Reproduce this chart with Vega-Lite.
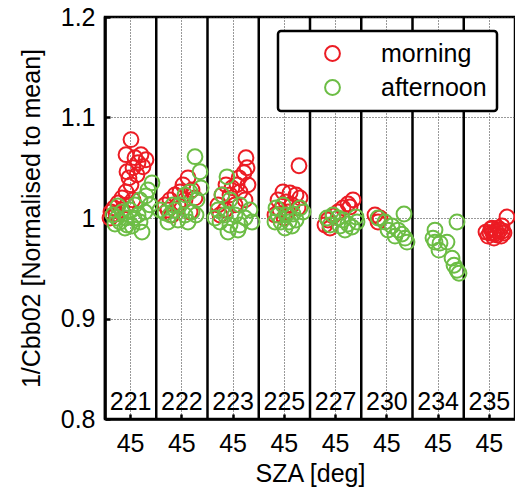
{
  "$schema": "https://vega.github.io/schema/vega-lite/v6.json",
  "width": 410,
  "height": 402,
  "autosize": {"type": "none"},
  "padding": {"left": 105, "top": 17, "right": 0, "bottom": 76},
  "background": "white",
  "datasets": {
    "days": [
      {"day": "221"}, {"day": "222"}, {"day": "223"}, {"day": "225"},
      {"day": "227"}, {"day": "230"}, {"day": "234"}, {"day": "235"}
    ],
    "obs": [
      {"day": "221", "period": "morning", "sza": 45.07, "v": 1.078},
      {"day": "221", "period": "morning", "sza": 44.10, "v": 1.063},
      {"day": "221", "period": "morning", "sza": 45.85, "v": 1.060},
      {"day": "221", "period": "morning", "sza": 47.02, "v": 1.063},
      {"day": "221", "period": "morning", "sza": 48.00, "v": 1.058},
      {"day": "221", "period": "morning", "sza": 46.44, "v": 1.055},
      {"day": "221", "period": "morning", "sza": 47.41, "v": 1.051},
      {"day": "221", "period": "morning", "sza": 45.46, "v": 1.050},
      {"day": "221", "period": "morning", "sza": 44.29, "v": 1.046},
      {"day": "221", "period": "morning", "sza": 44.68, "v": 1.040},
      {"day": "221", "period": "morning", "sza": 46.24, "v": 1.043},
      {"day": "221", "period": "morning", "sza": 45.07, "v": 1.033},
      {"day": "221", "period": "morning", "sza": 44.10, "v": 1.026},
      {"day": "221", "period": "morning", "sza": 43.32, "v": 1.020},
      {"day": "221", "period": "morning", "sza": 42.54, "v": 1.015},
      {"day": "221", "period": "morning", "sza": 41.76, "v": 1.010},
      {"day": "221", "period": "morning", "sza": 41.17, "v": 1.006},
      {"day": "221", "period": "morning", "sza": 42.15, "v": 1.004},
      {"day": "221", "period": "morning", "sza": 43.32, "v": 1.008},
      {"day": "221", "period": "morning", "sza": 44.29, "v": 1.013},
      {"day": "221", "period": "morning", "sza": 45.46, "v": 1.018},
      {"day": "221", "period": "morning", "sza": 40.98, "v": 1.000},
      {"day": "222", "period": "morning", "sza": 46.20, "v": 1.040},
      {"day": "222", "period": "morning", "sza": 45.22, "v": 1.033},
      {"day": "222", "period": "morning", "sza": 43.66, "v": 1.023},
      {"day": "222", "period": "morning", "sza": 44.63, "v": 1.026},
      {"day": "222", "period": "morning", "sza": 46.98, "v": 1.028},
      {"day": "222", "period": "morning", "sza": 42.68, "v": 1.018},
      {"day": "222", "period": "morning", "sza": 41.71, "v": 1.013},
      {"day": "222", "period": "morning", "sza": 45.61, "v": 1.018},
      {"day": "222", "period": "morning", "sza": 44.24, "v": 1.013},
      {"day": "222", "period": "morning", "sza": 47.56, "v": 1.020},
      {"day": "222", "period": "morning", "sza": 43.07, "v": 1.003},
      {"day": "222", "period": "morning", "sza": 42.29, "v": 1.008},
      {"day": "222", "period": "morning", "sza": 46.59, "v": 1.006},
      {"day": "223", "period": "morning", "sza": 47.51, "v": 1.060},
      {"day": "223", "period": "morning", "sza": 47.71, "v": 1.050},
      {"day": "223", "period": "morning", "sza": 47.12, "v": 1.045},
      {"day": "223", "period": "morning", "sza": 46.15, "v": 1.040},
      {"day": "223", "period": "morning", "sza": 45.76, "v": 1.033},
      {"day": "223", "period": "morning", "sza": 44.78, "v": 1.030},
      {"day": "223", "period": "morning", "sza": 43.61, "v": 1.033},
      {"day": "223", "period": "morning", "sza": 42.83, "v": 1.023},
      {"day": "223", "period": "morning", "sza": 44.39, "v": 1.023},
      {"day": "223", "period": "morning", "sza": 46.34, "v": 1.026},
      {"day": "223", "period": "morning", "sza": 47.90, "v": 1.033},
      {"day": "223", "period": "morning", "sza": 42.05, "v": 1.013},
      {"day": "223", "period": "morning", "sza": 43.41, "v": 1.008},
      {"day": "223", "period": "morning", "sza": 45.37, "v": 1.013},
      {"day": "223", "period": "morning", "sza": 47.32, "v": 1.018},
      {"day": "223", "period": "morning", "sza": 42.44, "v": 1.003},
      {"day": "225", "period": "morning", "sza": 47.85, "v": 1.052},
      {"day": "225", "period": "morning", "sza": 44.73, "v": 1.026},
      {"day": "225", "period": "morning", "sza": 46.10, "v": 1.025},
      {"day": "225", "period": "morning", "sza": 47.27, "v": 1.023},
      {"day": "225", "period": "morning", "sza": 48.05, "v": 1.020},
      {"day": "225", "period": "morning", "sza": 43.76, "v": 1.018},
      {"day": "225", "period": "morning", "sza": 45.32, "v": 1.016},
      {"day": "225", "period": "morning", "sza": 46.49, "v": 1.013},
      {"day": "225", "period": "morning", "sza": 44.15, "v": 1.008},
      {"day": "225", "period": "morning", "sza": 45.71, "v": 1.006},
      {"day": "225", "period": "morning", "sza": 47.66, "v": 1.010},
      {"day": "225", "period": "morning", "sza": 43.17, "v": 1.003},
      {"day": "225", "period": "morning", "sza": 44.93, "v": 1.000},
      {"day": "227", "period": "morning", "sza": 48.39, "v": 1.018},
      {"day": "227", "period": "morning", "sza": 47.41, "v": 1.014},
      {"day": "227", "period": "morning", "sza": 46.44, "v": 1.010},
      {"day": "227", "period": "morning", "sza": 45.46, "v": 1.006},
      {"day": "227", "period": "morning", "sza": 44.49, "v": 1.002},
      {"day": "227", "period": "morning", "sza": 43.51, "v": 0.998},
      {"day": "227", "period": "morning", "sza": 42.93, "v": 0.993},
      {"day": "227", "period": "morning", "sza": 43.90, "v": 0.990},
      {"day": "227", "period": "morning", "sza": 47.80, "v": 1.011},
      {"day": "230", "period": "morning", "sza": 42.68, "v": 1.003},
      {"day": "230", "period": "morning", "sza": 43.66, "v": 1.000},
      {"day": "230", "period": "morning", "sza": 43.27, "v": 0.996},
      {"day": "235", "period": "morning", "sza": 45.12, "v": 0.985},
      {"day": "235", "period": "morning", "sza": 46.49, "v": 0.983},
      {"day": "235", "period": "morning", "sza": 47.85, "v": 0.985},
      {"day": "235", "period": "morning", "sza": 45.51, "v": 0.990},
      {"day": "235", "period": "morning", "sza": 47.07, "v": 0.988},
      {"day": "235", "period": "morning", "sza": 45.90, "v": 0.980},
      {"day": "235", "period": "morning", "sza": 44.34, "v": 0.986},
      {"day": "235", "period": "morning", "sza": 48.44, "v": 1.001},
      {"day": "235", "period": "morning", "sza": 47.46, "v": 0.992},
      {"day": "235", "period": "morning", "sza": 44.73, "v": 0.982},
      {"day": "235", "period": "morning", "sza": 46.30, "v": 0.987},
      {"day": "235", "period": "morning", "sza": 47.30, "v": 0.982},
      {"day": "235", "period": "morning", "sza": 45.70, "v": 0.985},
      {"day": "235", "period": "morning", "sza": 46.70, "v": 0.990},
      {"day": "235", "period": "morning", "sza": 45.30, "v": 0.989},
      {"day": "235", "period": "morning", "sza": 46.00, "v": 0.984},
      {"day": "235", "period": "morning", "sza": 47.60, "v": 0.987},
      {"day": "221", "period": "afternoon", "sza": 49.17, "v": 1.035},
      {"day": "221", "period": "afternoon", "sza": 48.39, "v": 1.028},
      {"day": "221", "period": "afternoon", "sza": 48.00, "v": 1.022},
      {"day": "221", "period": "afternoon", "sza": 48.78, "v": 1.013},
      {"day": "221", "period": "afternoon", "sza": 46.83, "v": 1.018},
      {"day": "221", "period": "afternoon", "sza": 45.85, "v": 1.013},
      {"day": "221", "period": "afternoon", "sza": 44.88, "v": 1.008},
      {"day": "221", "period": "afternoon", "sza": 43.32, "v": 1.006},
      {"day": "221", "period": "afternoon", "sza": 42.34, "v": 1.000},
      {"day": "221", "period": "afternoon", "sza": 41.56, "v": 1.003},
      {"day": "221", "period": "afternoon", "sza": 42.54, "v": 1.012},
      {"day": "221", "period": "afternoon", "sza": 42.93, "v": 0.996},
      {"day": "221", "period": "afternoon", "sza": 44.29, "v": 0.993},
      {"day": "221", "period": "afternoon", "sza": 45.27, "v": 0.992},
      {"day": "221", "period": "afternoon", "sza": 43.90, "v": 0.990},
      {"day": "221", "period": "afternoon", "sza": 47.22, "v": 0.986},
      {"day": "221", "period": "afternoon", "sza": 46.44, "v": 1.003},
      {"day": "221", "period": "afternoon", "sza": 47.80, "v": 1.006},
      {"day": "221", "period": "afternoon", "sza": 44.10, "v": 1.000},
      {"day": "221", "period": "afternoon", "sza": 45.66, "v": 1.000},
      {"day": "221", "period": "afternoon", "sza": 41.95, "v": 0.994},
      {"day": "221", "period": "afternoon", "sza": 46.83, "v": 0.996},
      {"day": "222", "period": "afternoon", "sza": 47.56, "v": 1.061},
      {"day": "222", "period": "afternoon", "sza": 48.54, "v": 1.046},
      {"day": "222", "period": "afternoon", "sza": 48.73, "v": 1.030},
      {"day": "222", "period": "afternoon", "sza": 46.59, "v": 1.026},
      {"day": "222", "period": "afternoon", "sza": 45.61, "v": 1.023},
      {"day": "222", "period": "afternoon", "sza": 47.95, "v": 1.018},
      {"day": "222", "period": "afternoon", "sza": 44.63, "v": 1.013},
      {"day": "222", "period": "afternoon", "sza": 43.66, "v": 1.008},
      {"day": "222", "period": "afternoon", "sza": 42.68, "v": 1.003},
      {"day": "222", "period": "afternoon", "sza": 41.71, "v": 1.005},
      {"day": "222", "period": "afternoon", "sza": 45.61, "v": 1.003},
      {"day": "222", "period": "afternoon", "sza": 46.98, "v": 1.006},
      {"day": "222", "period": "afternoon", "sza": 44.24, "v": 0.998},
      {"day": "222", "period": "afternoon", "sza": 42.29, "v": 0.996},
      {"day": "222", "period": "afternoon", "sza": 46.20, "v": 0.996},
      {"day": "222", "period": "afternoon", "sza": 47.76, "v": 1.003},
      {"day": "222", "period": "afternoon", "sza": 40.73, "v": 1.008},
      {"day": "222", "period": "afternoon", "sza": 43.27, "v": 1.013},
      {"day": "223", "period": "afternoon", "sza": 43.80, "v": 1.041},
      {"day": "223", "period": "afternoon", "sza": 42.83, "v": 1.023},
      {"day": "223", "period": "afternoon", "sza": 44.39, "v": 1.018},
      {"day": "223", "period": "afternoon", "sza": 46.34, "v": 1.013},
      {"day": "223", "period": "afternoon", "sza": 48.29, "v": 1.008},
      {"day": "223", "period": "afternoon", "sza": 42.05, "v": 1.008},
      {"day": "223", "period": "afternoon", "sza": 43.41, "v": 1.003},
      {"day": "223", "period": "afternoon", "sza": 45.37, "v": 1.003},
      {"day": "223", "period": "afternoon", "sza": 47.32, "v": 1.000},
      {"day": "223", "period": "afternoon", "sza": 42.44, "v": 0.996},
      {"day": "223", "period": "afternoon", "sza": 44.39, "v": 0.993},
      {"day": "223", "period": "afternoon", "sza": 46.34, "v": 0.993},
      {"day": "223", "period": "afternoon", "sza": 48.68, "v": 0.996},
      {"day": "223", "period": "afternoon", "sza": 44.00, "v": 0.986},
      {"day": "223", "period": "afternoon", "sza": 45.95, "v": 0.988},
      {"day": "223", "period": "afternoon", "sza": 41.46, "v": 1.000},
      {"day": "225", "period": "afternoon", "sza": 43.37, "v": 1.010},
      {"day": "225", "period": "afternoon", "sza": 44.73, "v": 1.013},
      {"day": "225", "period": "afternoon", "sza": 48.05, "v": 1.010},
      {"day": "225", "period": "afternoon", "sza": 48.63, "v": 1.006},
      {"day": "225", "period": "afternoon", "sza": 43.76, "v": 1.003},
      {"day": "225", "period": "afternoon", "sza": 45.32, "v": 1.003},
      {"day": "225", "period": "afternoon", "sza": 46.68, "v": 1.004},
      {"day": "225", "period": "afternoon", "sza": 44.34, "v": 0.996},
      {"day": "225", "period": "afternoon", "sza": 45.90, "v": 0.996},
      {"day": "225", "period": "afternoon", "sza": 47.27, "v": 0.998},
      {"day": "225", "period": "afternoon", "sza": 43.17, "v": 0.996},
      {"day": "225", "period": "afternoon", "sza": 45.12, "v": 0.990},
      {"day": "225", "period": "afternoon", "sza": 46.49, "v": 0.992},
      {"day": "227", "period": "afternoon", "sza": 43.32, "v": 1.000},
      {"day": "227", "period": "afternoon", "sza": 44.49, "v": 1.003},
      {"day": "227", "period": "afternoon", "sza": 45.46, "v": 1.000},
      {"day": "227", "period": "afternoon", "sza": 46.44, "v": 0.998},
      {"day": "227", "period": "afternoon", "sza": 43.90, "v": 0.993},
      {"day": "227", "period": "afternoon", "sza": 45.85, "v": 0.992},
      {"day": "227", "period": "afternoon", "sza": 47.41, "v": 0.994},
      {"day": "227", "period": "afternoon", "sza": 48.20, "v": 0.991},
      {"day": "227", "period": "afternoon", "sza": 49.17, "v": 0.996},
      {"day": "227", "period": "afternoon", "sza": 48.98, "v": 1.001},
      {"day": "227", "period": "afternoon", "sza": 46.83, "v": 0.988},
      {"day": "230", "period": "afternoon", "sza": 48.34, "v": 1.004},
      {"day": "230", "period": "afternoon", "sza": 43.27, "v": 1.000},
      {"day": "230", "period": "afternoon", "sza": 44.63, "v": 0.996},
      {"day": "230", "period": "afternoon", "sza": 46.00, "v": 0.992},
      {"day": "230", "period": "afternoon", "sza": 47.17, "v": 0.988},
      {"day": "230", "period": "afternoon", "sza": 47.95, "v": 0.984},
      {"day": "230", "period": "afternoon", "sza": 48.54, "v": 0.980},
      {"day": "230", "period": "afternoon", "sza": 48.93, "v": 0.976},
      {"day": "230", "period": "afternoon", "sza": 45.22, "v": 0.988},
      {"day": "230", "period": "afternoon", "sza": 46.59, "v": 0.982},
      {"day": "234", "period": "afternoon", "sza": 48.68, "v": 0.996},
      {"day": "234", "period": "afternoon", "sza": 44.39, "v": 0.988},
      {"day": "234", "period": "afternoon", "sza": 44.39, "v": 0.976},
      {"day": "234", "period": "afternoon", "sza": 45.37, "v": 0.975},
      {"day": "234", "period": "afternoon", "sza": 46.73, "v": 0.976},
      {"day": "234", "period": "afternoon", "sza": 45.17, "v": 0.968},
      {"day": "234", "period": "afternoon", "sza": 47.71, "v": 0.960},
      {"day": "234", "period": "afternoon", "sza": 48.10, "v": 0.953},
      {"day": "234", "period": "afternoon", "sza": 48.68, "v": 0.948},
      {"day": "234", "period": "afternoon", "sza": 49.07, "v": 0.945},
      {"day": "234", "period": "afternoon", "sza": 44.00, "v": 0.980}
    ]
  },
  "layer": [
    {
      "data": {"name": "days"},
      "mark": {"type": "rule", "color": "black", "strokeWidth": 2.5},
      "encoding": {
        "x": {"field": "day", "type": "nominal", "bandPosition": 0}
      }
    },
    {
      "data": {"name": "obs"},
      "mark": {"type": "point", "shape": "circle", "filled": false, "size": 220, "strokeWidth": 2, "opacity": 1},
      "encoding": {
        "x": {
          "field": "day", "type": "nominal",
          "sort": ["221", "222", "223", "225", "227", "230", "234", "235"],
          "scale": {"domain": ["221", "222", "223", "225", "227", "230", "234", "235"], "paddingInner": 0, "paddingOuter": 0},
          "axis": {
            "title": "SZA [deg]",
            "labelExpr": "'45'",
            "labelAngle": 0,
            "labelAlign": "center",
            "bandPosition": 0.5,
            "grid": true,
            "ticks": true,
            "tickSize": -5,
            "tickWidth": 2.5,
            "labelPadding": 29,
            "titlePadding": 5
          }
        },
        "xOffset": {"field": "sza", "type": "quantitative", "scale": {"domain": [40, 50]}},
        "y": {
          "field": "v", "type": "quantitative",
          "scale": {"domain": [0.8, 1.2], "nice": false, "zero": false},
          "axis": {
            "title": "1/Cbb02 [Normalised to mean]",
            "values": [0.8, 0.9, 1, 1.1, 1.2],
            "format": ".1~f",
            "grid": true,
            "ticks": true,
            "tickSize": -5,
            "tickWidth": 2.5,
            "labelPadding": 15,
            "titlePadding": 16
          }
        },
        "color": {
          "field": "period", "type": "nominal",
          "scale": {"domain": ["morning", "afternoon"], "range": ["#ec1c24", "#6cbd45"]},
          "legend": {
            "title": null,
            "orient": "none",
            "legendX": 173,
            "legendY": 14,
            "padding": 10,
            "fillColor": "white",
            "strokeColor": "black",
            "cornerRadius": 3,
            "labelFontSize": 25,
            "labelColor": "black",
            "symbolType": "circle",
            "symbolSize": 220,
            "symbolStrokeWidth": 2,
            "symbolOffset": 32,
            "labelOffset": 36,
            "rowPadding": 8
          }
        }
      }
    },
    {
      "data": {"name": "days"},
      "mark": {"type": "text", "fontSize": 25, "color": "black", "baseline": "alphabetic", "align": "center", "dy": -9},
      "encoding": {
        "x": {"field": "day", "type": "nominal"},
        "y": {"datum": 0.8},
        "text": {"field": "day"}
      }
    }
  ],
  "config": {
    "font": "Liberation Sans",
    "view": {"stroke": "black", "strokeWidth": 2.5},
    "axis": {
      "labelFontSize": 25,
      "labelColor": "black",
      "titleFontSize": 25,
      "titleFontWeight": "normal",
      "titleColor": "black",
      "domainColor": "black",
      "domainWidth": 2.5,
      "tickColor": "black",
      "gridColor": "#333",
      "gridDash": [1, 2],
      "gridWidth": 1,
      "gridOpacity": 1
    },
    "legend": {"strokeWidth": 2.5}
  }
}
